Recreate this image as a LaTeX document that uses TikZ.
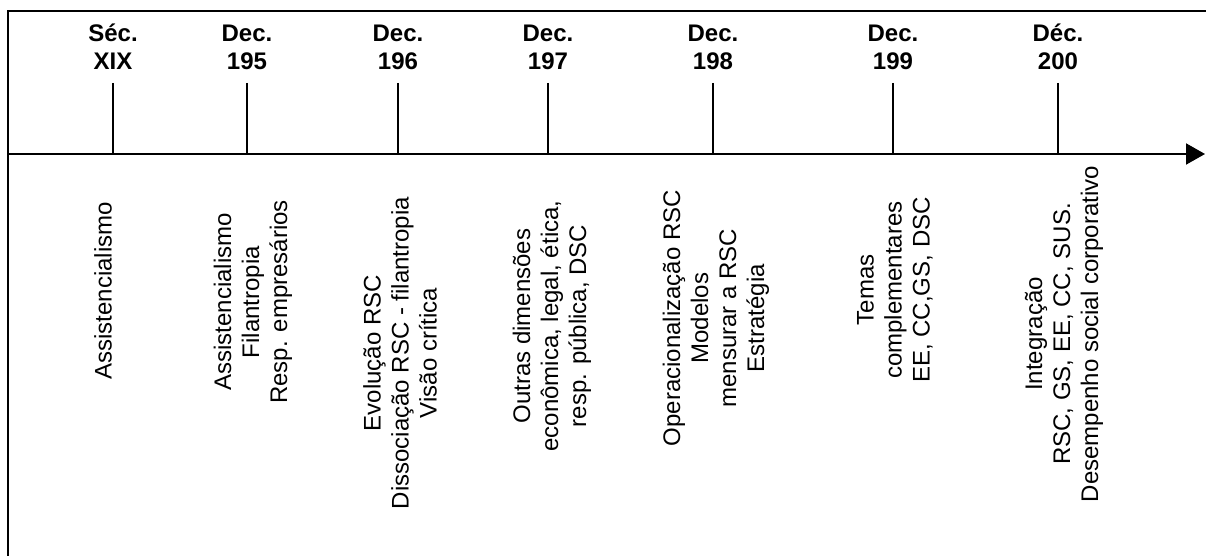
\documentclass[tikz,border=0pt]{standalone}
\usepackage{fontspec}
\setmainfont{Liberation Sans}
\usetikzlibrary{arrows.meta}

\tikzset{
  frameline/.style={line width=1pt},
  axisline/.style={line width=1pt, -{Triangle[length=9.5pt,width=10.5pt]}},
  tickline/.style={line width=1pt},
  periodlabel/.style={font=\fontsize{12pt}{14pt}\selectfont\bfseries, align=center, anchor=base, inner sep=0pt},
  topicbox/.style={font=\fontsize{12pt}{14pt}\selectfont, align=center, rotate=90, anchor=center, inner sep=0pt},
}

\begin{document}
\begin{tikzpicture}[x=0.5pt, y=-0.5pt]
\useasboundingbox (0,0) rectangle (1206,556);

% frame along the top and the left side
\coordinate (fb) at (8,556);
\coordinate (fc) at (8,11);
\coordinate (fr) at (1206,11);
\draw[frameline] (fb) -- (fc) -- (fr);

% time axis
\coordinate (ax0) at (8,154);
\coordinate (ax1) at (1205,154);
\draw[axisline] (ax0) -- (ax1);

% ticks: top end and foot on the axis
\foreach \n/\x in {t1/113, t2/247, t3/398, t4/548, t5/713, t6/893, t7/1058}{
  \coordinate (\n top) at (\x,83);
  \coordinate (\n foot) at (\x,154);
  \draw[tickline] (\n top) -- (\n foot);
}

% period labels above the ticks (anchored on the baseline of the second line)
\node[periodlabel] (p1) at (113,70) {Séc.\\XIX};
\node[periodlabel] (p2) at (247,70) {Dec.\\195};
\node[periodlabel] (p3) at (398,70) {Dec.\\196};
\node[periodlabel] (p4) at (548,70) {Dec.\\197};
\node[periodlabel] (p5) at (713,70) {Dec.\\198};
\node[periodlabel] (p6) at (893,70) {Dec.\\199};
\node[periodlabel] (p7) at (1058,70) {Déc.\\200};

% themes of each period, set vertically
\node[topicbox] (b1) at (103,291) {Assistencialismo};
\node[topicbox] (b2) at (253,302) {Assistencialismo\\Filantropia\\Resp. empresários};
\node[topicbox] (b3) at (400,353) {Evolução RSC\\Dissociação RSC - filantropia\\Visão crítica};
\node[topicbox] (b4) at (552,326) {Outras dimensões\\econômica, legal, ética,\\resp. pública, DSC};
\node[topicbox] (b5) at (716,318) {Operacionalização RSC\\Modelos\\mensurar a RSC\\Estratégia};
\node[topicbox] (b6) at (895,290) {Temas\\complementares\\EE, CC,GS, DSC};
\node[topicbox] (b7) at (1064,334) {Integração\\RSC, GS, EE, CC, SUS.\\Desempenho social corporativo};
\end{tikzpicture}
\end{document}
